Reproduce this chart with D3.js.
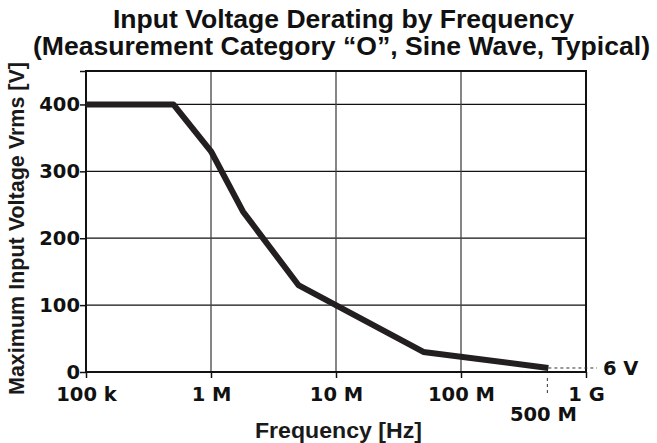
<!DOCTYPE html>
<html>
<head>
<meta charset="utf-8">
<script src="https://cdn.jsdelivr.net/npm/d3@7"></script>
<style>
  body { margin: 0; background: #fff; }
  svg { display: block; }
</style>
</head>
<body>
<div id="chart"></div>
<script>
// Data
var freqs = [1e5, 5e5, 1e6, 1.8e6, 5e6, 5e7, 5e8];
var volts = [400, 400, 330, 240, 130, 30, 6];
var xTicks = [1e5, 1e6, 1e7, 1e8, 1e9];
var xTickLabels = ["100 k", "1 M", "10 M", "100 M", "1 G"];
var yTicks = [0, 100, 200, 300, 400];

var margin = { top: 71, right: 71, bottom: 71, left: 86 };
var W = 657, H = 443;
var width = W - margin.left - margin.right;
var height = H - margin.top - margin.bottom;

var svg = d3.select("#chart").append("svg")
    .attr("width", W)
    .attr("height", H);

var g = svg.append("g")
    .attr("transform", "translate(" + margin.left + "," + margin.top + ")");

var x = d3.scaleLog().domain([1e5, 1e9]).range([0, width]);
var y = d3.scaleLinear().domain([0, 450]).range([height, 0]);

var tickFont = "'DejaVu Sans', sans-serif";
var titleFont = "'Liberation Sans', Arial, sans-serif";

// gridlines
g.selectAll(".hgrid").data(yTicks.slice(1))
  .enter().append("line")
    .attr("x1", 0).attr("x2", width)
    .attr("y1", function(d) { return y(d); })
    .attr("y2", function(d) { return y(d); })
    .attr("stroke", "#111").attr("stroke-width", 1.3);

g.selectAll(".vgrid").data(xTicks.slice(1, -1))
  .enter().append("line")
    .attr("x1", function(d) { return x(d); })
    .attr("x2", function(d) { return x(d); })
    .attr("y1", 0).attr("y2", height)
    .attr("stroke", "#444").attr("stroke-width", 1.3);

// axes
var xAxis = d3.axisBottom(x).tickValues(xTicks)
    .tickFormat(function(d, i) { return xTickLabels[i]; })
    .tickSize(6).tickPadding(9);
var yAxis = d3.axisLeft(y).tickValues(yTicks.concat([450]))
    .tickFormat(function(d) { return d === 450 ? "" : d; })
    .tickSize(6).tickPadding(0);

var gx = g.append("g").attr("transform", "translate(0," + height + ")").call(xAxis);
var gy = g.append("g").call(yAxis);
[gx, gy].forEach(function(a) {
  a.select(".domain").remove();
  a.selectAll(".tick line").attr("stroke", "#111").attr("stroke-width", 1.5);
  a.selectAll("text")
    .attr("font-family", tickFont)
    .attr("font-weight", "bold")
    .attr("font-size", "19.5px")
    .attr("fill", "#111");
});
gx.selectAll("text").attr("dy", "0.71em");

// frame
g.append("rect")
  .attr("width", width).attr("height", height)
  .attr("fill", "none").attr("stroke", "#111").attr("stroke-width", 2);

// dotted guides to 500 M / 6 V
var last = freqs.length - 1;
g.append("line")
  .attr("x1", x(freqs[last])).attr("x2", width + 11)
  .attr("y1", y(volts[last])).attr("y2", y(volts[last]))
  .attr("stroke", "#333").attr("stroke-width", 1)
  .attr("stroke-dasharray", "3,3");
g.append("line")
  .attr("x1", x(freqs[last]) - 1).attr("x2", x(freqs[last]) - 1)
  .attr("y1", height + 6).attr("y2", height + 21)
  .attr("stroke", "#333").attr("stroke-width", 1)
  .attr("stroke-dasharray", "3,3");

// data line
var line = d3.line()
  .x(function(d, i) { return x(freqs[i]); })
  .y(function(d) { return y(d); });
g.append("path")
  .datum(volts)
  .attr("d", line)
  .attr("fill", "none")
  .attr("stroke", "#231f20")
  .attr("stroke-width", 6)
  .attr("stroke-linejoin", "round");

// extra labels
g.append("text")
  .attr("x", width + 17).attr("y", y(volts[last]))
  .attr("dy", "0.35em")
  .attr("font-family", tickFont).attr("font-weight", "bold")
  .attr("font-size", "19.5px").attr("fill", "#111")
  .text("6 V");
g.append("text")
  .attr("x", x(freqs[last]) - 5).attr("y", height + 42)
  .attr("dy", "0.35em").attr("text-anchor", "middle")
  .attr("font-family", tickFont).attr("font-weight", "bold")
  .attr("font-size", "19.5px").attr("fill", "#111")
  .text("500 M");

// titles
svg.append("text")
  .attr("x", 113).attr("y", 28)
  .attr("font-family", titleFont).attr("font-weight", "bold")
  .attr("font-size", "25px").attr("fill", "#111")
  .attr("textLength", 461).attr("lengthAdjust", "spacingAndGlyphs")
  .text("Input Voltage Derating by Frequency");
svg.append("text")
  .attr("x", 33).attr("y", 55)
  .attr("font-family", titleFont).attr("font-weight", "bold")
  .attr("font-size", "25px").attr("fill", "#111")
  .attr("textLength", 617).attr("lengthAdjust", "spacingAndGlyphs")
  .text("(Measurement Category \u201cO\u201d, Sine Wave, Typical)");

svg.append("text")
  .attr("x", 255).attr("y", 438)
  .attr("font-family", titleFont).attr("font-weight", "bold")
  .attr("font-size", "22px").attr("fill", "#1a1a1a")
  .attr("textLength", 167).attr("lengthAdjust", "spacingAndGlyphs")
  .text("Frequency [Hz]");

svg.append("text")
  .attr("transform", "translate(24,395) rotate(-90)")
  .attr("font-family", titleFont).attr("font-weight", "bold")
  .attr("font-size", "22px").attr("fill", "#1a1a1a")
  .attr("textLength", 333).attr("lengthAdjust", "spacingAndGlyphs")
  .text("Maximum Input Voltage Vrms [V]");
</script>
</body>
</html>
